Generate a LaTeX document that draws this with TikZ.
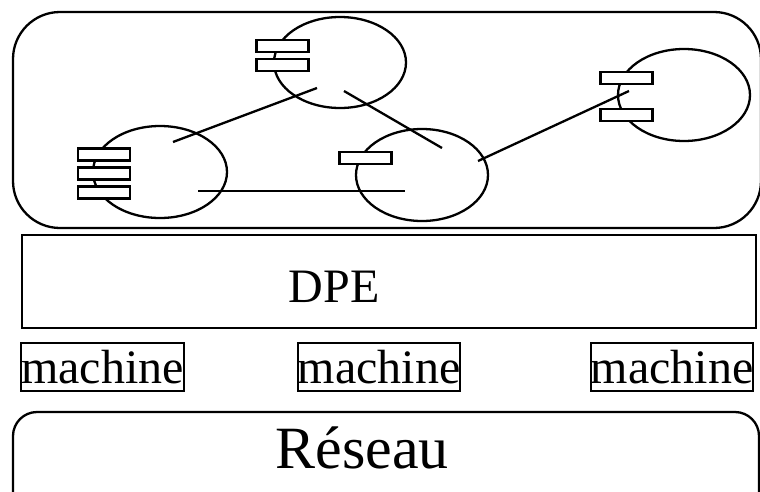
\documentclass[tikz,border=0pt]{standalone}
\usepackage{fontspec}
\setmainfont{Liberation Serif}
\usetikzlibrary{shapes.geometric}

\begin{document}
\begin{tikzpicture}[x=1pt,y=-1pt,line width=2.3pt,
  obj/.style={draw,ellipse,inner sep=0pt,minimum width=132pt,minimum height=92pt},
  port/.style={draw,fill=white,inner sep=0pt,minimum width=52pt,minimum height=12pt},
  mach/.style={draw,inner sep=0pt,minimum height=48pt,font=\fontsize{48}{50}\selectfont}]
\useasboundingbox (0,0) rectangle (760,491);
\clip (0,0) rectangle (760,491);
% application layer with its objects
\draw[rounded corners=47pt] (13,12) rectangle (761,228);
\node[obj,minimum height=91pt] (objTop) at (340,62.5) {};
\node[obj,minimum width=134pt] (objLeft) at (160,172) {};
\node[obj] (objMid) at (422,175) {};
\node[obj] (objRight) at (684,95) {};
% links between objects
\coordinate (l1) at (173,142); \coordinate (t1) at (317,88);
\coordinate (t2) at (344,91);  \coordinate (m1) at (442,148);
\coordinate (m2) at (478,161); \coordinate (r1) at (629,91);
\coordinate (l2) at (198,191); \coordinate (m3) at (405,191);
\draw (l1) -- (t1);
\draw (t2) -- (m1);
\draw (m2) -- (r1);
\draw (l2) -- (m3);
% interfaces
\node[port] (pTop1) at (282.5,46) {};
\node[port] (pTop2) at (282.5,65) {};
\node[port] (pLeft1) at (104,154.5) {};
\node[port] (pLeft2) at (104,173.5) {};
\node[port] (pLeft3) at (104,192.5) {};
\node[port] (pMid) at (365.5,158) {};
\node[port] (pRight1) at (626.5,78) {};
\node[port] (pRight2) at (626.5,115) {};
% DPE
\node[draw,inner sep=0pt,minimum width=734pt,minimum height=93pt] (dpe) at (389,281.5) {};
\node[anchor=base,inner sep=0pt,font=\fontsize{48}{50}\selectfont] (dpeLbl) at (334,302) {DPE};
% machines
\node[mach,minimum width=161pt] (mach1) at (102.5,367) {machine};
\node[mach,minimum width=160pt] (mach2) at (379,367) {machine};
\node[mach,minimum width=158pt] (mach3) at (672,367) {machine};
% network
\draw[rounded corners=24pt] (13,412) rectangle (759,530);
\node[anchor=base,inner sep=0pt,font=\fontsize{60}{64}\selectfont] (net) at (362,468) {Réseau};
\end{tikzpicture}
\end{document}
